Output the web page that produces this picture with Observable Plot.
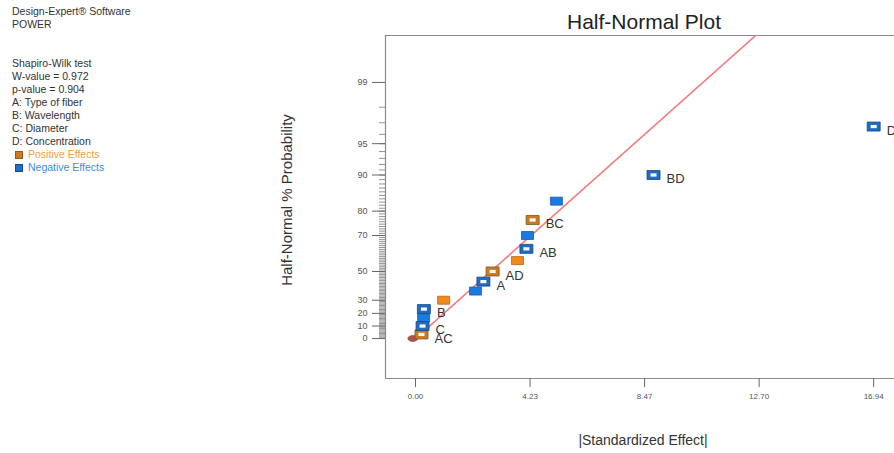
<!DOCTYPE html>
<html>
<head>
<meta charset="utf-8">
<script src="https://cdn.jsdelivr.net/npm/d3@7"></script>
<script src="https://cdn.jsdelivr.net/npm/@observablehq/plot@0.6"></script>
<style>
  html, body { margin: 0; padding: 0; background: #fff; }
  #wrap { position: relative; width: 894px; height: 453px; overflow: hidden; font-family: "Liberation Sans", Arial, sans-serif; }
  #wrap svg { position: absolute; left: 0; top: 0; }
  .info { position: absolute; left: 12px; top: 5px; font-size: 10.5px; line-height: 13px; color: #333; }
  .info .sw { display: inline-block; width: 6px; height: 6px; margin: 0 5px 1px 3px; vertical-align: middle; }
  .title { position: absolute; left: 644px; top: 22px; transform: translate(-50%, -50%); font-size: 21px; color: #222; white-space: nowrap; }
  .ylab { position: absolute; left: 286px; top: 200px; transform: translate(-50%, -50%) rotate(-90deg); font-size: 15px; color: #333; white-space: nowrap; }
  .xlab { position: absolute; left: 643px; top: 440px; transform: translate(-50%, -50%); font-size: 14px; color: #333; white-space: nowrap; }
</style>
</head>
<body>
<div id="wrap">
  <div class="info">
    Design-Expert® Software<br>POWER<br><br><br>
    Shapiro-Wilk test<br>
    W-value = 0.972<br>
    p-value = 0.904<br>
    A: Type of fiber<br>
    B: Wavelength<br>
    C: Diameter<br>
    D: Concentration<br>
    <span style="color:#f0a040"><span class="sw" style="background:#d07a20;border:1px solid #8a5a2a"></span>Positive Effects</span><br>
    <span style="color:#3a8ee8"><span class="sw" style="background:#1a6fd0;border:1px solid #1a4a8a"></span>Negative Effects</span>
  </div>
  <div class="title">Half-Normal Plot</div>
  <div class="ylab">Half-Normal % Probability</div>
  <div class="xlab">|Standardized Effect|</div>
</div>
<script>
// ---- data ----
const effectLabels = ["AC", "C", "", "B", "", "", "A", "AD", "", "AB", "", "BC", "", "BD", "D"];
const effectValues = [0.22, 0.26, 0.30, 0.31, 1.04, 2.22, 2.51, 2.85, 3.77, 4.10, 4.14, 4.33, 5.21, 8.80, 16.94];
const effectProbs  = [3.3, 10, 16.7, 23.3, 30, 36.7, 43.3, 50, 56.7, 63.3, 70, 76.7, 83.3, 90, 96.7];
const effectSigns  = ["pos", "neg", "neg", "neg", "pos", "neg", "neg", "pos", "pos", "neg", "neg", "pos", "neg", "neg", "neg"];
const fitEffect = [0, 12.75];
const fitProb   = [0, 99.8];
const originEffect = [-0.1];
const originProb = [0];
const xTickValues = [0, 4.235, 8.47, 12.705, 16.94];
const xTickLabels = ["0.00", "4.23", "8.47", "12.70", "16.94"];
const yMajorTicks = [0, 10, 20, 30, 50, 70, 80, 90, 95, 99];
const yMinorTicks = d3.range(1, 99);

// inverse normal CDF (Acklam)
function qnorm(p) {
  const a = [-3.969683028665376e+01, 2.209460984245205e+02, -2.759285104469687e+02, 1.383577518672690e+02, -3.066479806614716e+01, 2.506628277459239e+00];
  const b = [-5.447609879822406e+01, 1.615858368580409e+02, -1.556989798598866e+02, 6.680131188771972e+01, -1.328068155288572e+01];
  const c = [-7.784894002430293e-03, -3.223964580411365e-01, -2.400758277161838e+00, -2.549732539343734e+00, 4.374664141464968e+00, 2.938163982698783e+00];
  const d = [7.784695709041462e-03, 3.224671290700398e-01, 2.445134137142996e+00, 3.754408661907416e+00];
  const pl = 0.02425, ph = 1 - pl;
  let q, r;
  if (p < pl) { q = Math.sqrt(-2 * Math.log(p)); return (((((c[0]*q+c[1])*q+c[2])*q+c[3])*q+c[4])*q+c[5]) / ((((d[0]*q+d[1])*q+d[2])*q+d[3])*q+1); }
  if (p <= ph) { q = p - 0.5; r = q*q; return (((((a[0]*r+a[1])*r+a[2])*r+a[3])*r+a[4])*r+a[5])*q / (((((b[0]*r+b[1])*r+b[2])*r+b[3])*r+b[4])*r+1); }
  q = Math.sqrt(-2 * Math.log(1 - p)); return -(((((c[0]*q+c[1])*q+c[2])*q+c[3])*q+c[4])*q+c[5]) / ((((d[0]*q+d[1])*q+d[2])*q+d[3])*q+1);
}
// half-normal score for a percent probability
const hz = (pct) => pct <= 0 ? 0 : qnorm(0.5 + pct / 200);

const effects = effectValues.map((v, i) => ({
  effect: v, z: hz(effectProbs[i]), label: effectLabels[i], sign: effectSigns[i], named: effectLabels[i] !== ""
}));
const named = effects.filter(d => d.named);
const unnamed = effects.filter(d => !d.named);
const fitLine = fitEffect.map((v, i) => ({effect: v, z: hz(fitProb[i])}));
const origin = originEffect.map((v, i) => ({effect: v, z: hz(originProb[i])}));

const majorZ = yMajorTicks.map(hz);
const majorLabel = new Map(majorZ.map((z, i) => [z, String(yMajorTicks[i])]));
const minorZ = yMinorTicks.map(hz);
const xLabelMap = new Map(xTickValues.map((v, i) => [v, xTickLabels[i]]));

const xDomain = [-1.11, 17.71];
const yDomain = [-0.402, 3.048];

const rectSym = (w, h) => ({ draw(ctx) { ctx.moveTo(-w, -h); ctx.lineTo(w, -h); ctx.lineTo(w, h); ctx.lineTo(-w, h); ctx.closePath(); } });
const ellipseSym = (rx, ry) => ({ draw(ctx) {
  const k = 0.5523;
  ctx.moveTo(rx, 0);
  ctx.bezierCurveTo(rx, ry * k, rx * k, ry, 0, ry);
  ctx.bezierCurveTo(-rx * k, ry, -rx, ry * k, -rx, 0);
  ctx.bezierCurveTo(-rx, -ry * k, -rx * k, -ry, 0, -ry);
  ctx.bezierCurveTo(rx * k, -ry, rx, -ry * k, rx, 0);
  ctx.closePath();
}});

const outerFill = {pos: "#cc7a22", neg: "#1f6cc4"};
const outerStroke = {pos: "#7e5226", neg: "#1a4784"};
const solidFill = {pos: "#f08a1c", neg: "#1a7ae0"};
const solidStroke = {pos: "#b8661a", neg: "#1a5cb0"};

const chart = Plot.plot({
  width: 894,
  height: 453,
  marginLeft: 385,
  marginRight: 0,
  marginTop: 35,
  marginBottom: 75,
  style: {fontFamily: "'Liberation Sans', Arial, sans-serif", background: "transparent", overflow: "visible"},
  x: {domain: xDomain, axis: null},
  y: {domain: yDomain, axis: null},
  marks: [
    Plot.ruleX([xDomain[0]], {stroke: "#8a8a8a", strokeWidth: 1.2}),
    Plot.ruleY([yDomain[0], yDomain[1]], {stroke: "#8a8a8a", strokeWidth: 1.2}),
    Plot.axisY(minorZ, {anchor: "left", label: null, tickSize: 6, tickFormat: () => "", stroke: "#777", strokeWidth: 0.8}),
    Plot.axisY(majorZ, {anchor: "left", label: null, tickSize: 13, tickPadding: 5, tickFormat: (d) => majorLabel.get(d), fontSize: 9, fill: "#555", stroke: "#666"}),
    Plot.axisX(xTickValues, {anchor: "bottom", label: null, tickSize: 9, tickPadding: 6, tickFormat: (d) => xLabelMap.get(d), fontSize: 8, fill: "#555", stroke: "#666"}),
    Plot.line(fitLine, {x: "effect", y: "z", stroke: "#ef7f7f", strokeWidth: 1.6, clip: true}),
    Plot.dot(origin, {x: "effect", y: "z", symbol: ellipseSym(5, 3), fill: "#b0504c", stroke: "#8a3a38", strokeWidth: 0.6}),
    Plot.dot(unnamed, {x: "effect", y: "z", symbol: rectSym(6, 4), fill: d => solidFill[d.sign], stroke: d => solidStroke[d.sign], strokeWidth: 0.8}),
    Plot.dot(named, {x: "effect", y: "z", symbol: rectSym(6.5, 4.5), fill: d => outerFill[d.sign], stroke: d => outerStroke[d.sign], strokeWidth: 0.8}),
    Plot.dot(named, {x: "effect", y: "z", symbol: rectSym(3, 1.6), fill: "white"}),
    Plot.text(named, {x: "effect", y: "z", text: "label", textAnchor: "start", dx: 13, dy: 4, fontSize: 13, fill: "#333"})
  ]
});
document.getElementById("wrap").prepend(chart);
</script>
</body>
</html>
